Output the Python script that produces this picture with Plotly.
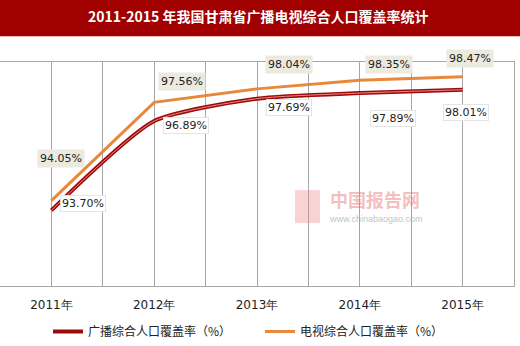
import plotly.graph_objects as go

years = ["2011年", "2012年", "2013年", "2014年", "2015年"]
radio = [93.70, 96.89, 97.69, 97.89, 98.01]
tv = [94.05, 97.56, 98.04, 98.35, 98.47]
radio_name = "广播综合人口覆盖率（%）"
tv_name = "电视综合人口覆盖率（%）"

# label offsets (px) for the data labels
radio_off = [(32, -7), (32, 4), (32, 9), (33, 25), (3, 23)]
tv_off = [(10, -42), (28, -21), (32, -24), (29, -16), (7, -18)]

xs = list(range(len(years)))
PH = 224.3  # plot height px
PW = 514.0

def py(px):
    return (286 - px) / PH

fig = go.Figure()
fig.add_trace(go.Scatter(x=xs, y=radio, mode="lines", name=radio_name,
                         line=dict(color="#9E0A0A", width=4, shape="spline", smoothing=0.6)))
fig.add_trace(go.Scatter(x=xs, y=radio, mode="lines", showlegend=False, hoverinfo="skip",
                         line=dict(color="#E88888", width=1, shape="spline", smoothing=0.6)))
fig.add_trace(go.Scatter(x=xs, y=tv, mode="lines", name=tv_name,
                         line=dict(color="#E8883A", width=3)))

for i in xs:
    dx, dy = tv_off[i]
    fig.add_annotation(x=xs[i], y=tv[i], text=f"{tv[i]:.2f}%", showarrow=False,
                       xshift=dx, yshift=-dy, bgcolor="#ECE9DF", borderpad=2,
                       xanchor="center", yanchor="middle",
                       font=dict(family="DejaVu Sans", size=11, color="#222"))
    dx, dy = radio_off[i]
    fig.add_annotation(x=xs[i], y=radio[i], text=f"{radio[i]:.2f}%", showarrow=False,
                       xshift=dx, yshift=-dy, bgcolor="white", bordercolor="#E4E4E4",
                       borderwidth=1, borderpad=1, xanchor="center", yanchor="middle",
                       font=dict(family="DejaVu Sans", size=11, color="#222"))

# title bar
fig.add_shape(type="rect", xref="paper", yref="paper", x0=-0.01, x1=1.02, y0=py(36), y1=py(-5),
              fillcolor="#A00000", line=dict(width=0), layer="below")
fig.add_annotation(xref="paper", yref="paper", x=258 / PW, y=py(16),
                   text="<b>2011-2015 年我国甘肃省广播电视综合人口覆盖率统计</b>", showarrow=False,
                   xanchor="center", yanchor="middle",
                   font=dict(family="Noto Sans CJK SC", size=14, color="white"))

# watermark
fig.add_shape(type="rect", xref="paper", yref="paper", x0=295 / PW, x1=320 / PW,
              y0=py(223), y1=py(190),
              fillcolor="rgba(235,130,130,0.35)", line=dict(width=0))
fig.add_annotation(xref="paper", yref="paper", x=375 / PW, y=py(199), text="<b>中国报告网</b>",
                   xanchor="center", yanchor="middle",
                   showarrow=False, font=dict(family="Noto Sans CJK SC", size=18, color="rgba(230,110,110,0.45)"))
fig.add_annotation(xref="paper", yref="paper", x=376 / PW, y=py(219), text="www.chinabaogao.com",
                   xanchor="center", yanchor="middle",
                   showarrow=False, font=dict(family="Liberation Sans", size=9, color="rgba(150,150,150,0.6)"))

tickvals = [v / 2 for v in range(-1, 2 * len(years))]
ticktext = [years[int(v)] if float(v).is_integer() and v >= 0 else "" for v in tickvals]

fig.update_layout(
    width=520, height=346,
    margin=dict(l=0, r=6, t=62, b=60),
    paper_bgcolor="white", plot_bgcolor="white",
    showlegend=True,
    legend=dict(orientation="h", x=48 / PW, xanchor="left", y=py(332), yanchor="middle",
                entrywidth=167, entrywidthmode="pixels",
                font=dict(family="Noto Sans CJK SC", size=12, color="#222")),
    xaxis=dict(range=[-0.5, len(years) - 0.5], tickmode="array", tickvals=tickvals, ticktext=ticktext,
               showgrid=True, gridcolor="#A6A6A6", gridwidth=1, zeroline=False,
               showline=True, linecolor="#A6A6A6", mirror=True, ticks="", ticklabelstandoff=8,
               tickfont=dict(family="DejaVu Sans", size=12, color="#222")),
    yaxis=dict(range=[91, 99], showgrid=False, zeroline=False, showticklabels=False,
               showline=True, linecolor="#A6A6A6", mirror=True, ticks=""),
)

fig.write_html("out.html")
